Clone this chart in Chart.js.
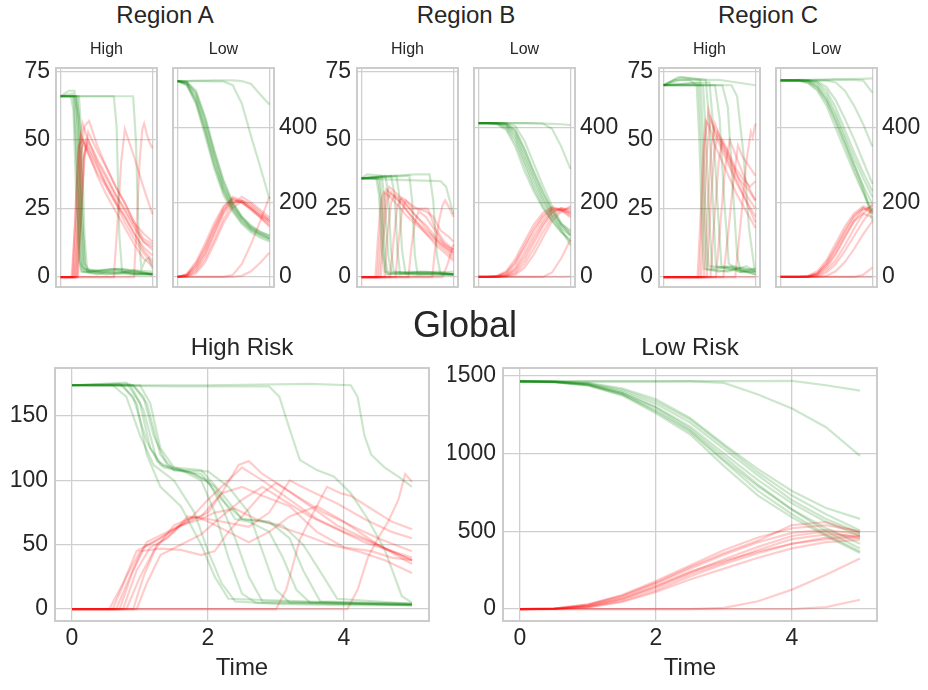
<!DOCTYPE html>
<html>
<head>
<meta charset="utf-8">
<script src="https://cdn.jsdelivr.net/npm/chart.js@4.4.0/dist/chart.umd.min.js"></script>
<style>
  html, body { margin: 0; padding: 0; background: #ffffff; }
  #fig { position: relative; width: 928px; height: 690px; overflow: hidden;
         font-family: "Liberation Sans", Arial, sans-serif; color: #262626; }
  #fig canvas { position: absolute; }
  .ttl { position: absolute; white-space: nowrap; line-height: 1; transform: translateX(-50%); }
</style>
</head>
<body>
<div id="fig"></div>
<script>
// ---------- tick labels and titles ----------
const timeTicksWide = [0, 2, 4];
const timeTicksNarrow = [0, 5];
const highTicks = [0, 25, 50, 75];
const lowTicks = [0, 200, 400];
const globalHighTicks = [0, 50, 100, 150];
const globalLowTicks = [0, 500, 1000, 1500];
const regionTitles = ['Region A', 'Region B', 'Region C'];
const groupTitles = ['High', 'Low'];
const globalTitle = 'Global';
const globalGroupTitles = ['High Risk', 'Low Risk'];
const timeLabel = 'Time';

// sample times used by the evenly sampled runs
const sampleTimes = [0, 0.5, 1, 1.5, 2, 2.5, 3, 3.5, 4, 4.5, 5];

// ---------- Region A ----------
const regionA_high_S = [
  [[0,66],[0.55,66],[0.7,61],[0.85,30],[1.0,6],[1.15,2],[2,1],[3,2.5],[4,1],[5,1.5]],
  [[0,66],[0.65,67],[0.8,62],[0.95,30],[1.1,5],[1.3,2],[2.5,1],[3.5,2],[5,1]],
  [[0,66],[0.45,68],[0.75,68],[0.9,60],[1.05,25],[1.2,4],[1.5,2],[3,1],[4,2.5],[5,1]],
  [[0,66],[0.8,66],[0.95,55],[1.1,20],[1.25,3],[2,2],[3,3],[5,2]],
  [[0,66],[0.85,66],[1.0,58],[1.15,25],[1.3,5],[1.6,2],[2.8,3],[5,1]],
  [[0,66],[0.9,66],[1.05,55],[1.2,20],[1.35,3],[2.2,2],[3.8,1],[5,1]],
  [[0,66],[1.0,66],[1.15,50],[1.3,15],[1.45,2],[2.6,2],[5,1]],
  [[0,66],[0.7,66],[0.85,45],[1.0,12],[1.15,2],[3.3,3],[5,1]],
  [[0,66],[2.9,66],[3.05,55],[3.2,15],[3.35,2],[4.2,1],[5,1]],
  [[0,66],[3.95,66],[4.1,50],[4.25,15],[4.4,3],[4.6,6],[4.8,7],[5,3]]
];
const regionA_high_I = [
  [[0,0],[0.6,0],[0.8,20],[0.95,45],[1.1,52],[1.5,45],[2,38],[2.5,33],[3,27],[3.5,22],[4,16],[4.5,10],[5,6]],
  [[0,0],[0.7,0],[0.9,25],[1.05,48],[1.2,56],[1.5,50],[2,42],[2.5,36],[3,30],[3.5,24],[4,18],[4.5,13],[5,11]],
  [[0,0],[0.75,0],[0.95,20],[1.1,45],[1.3,55],[1.55,57],[2,48],[2.5,40],[3,33],[3.5,27],[4,20],[4.5,14],[5,12]],
  [[0,0],[0.8,0],[1.0,25],[1.15,47],[1.35,50],[2,41],[2.5,33],[3,27],[3.5,20],[4,14],[4.5,9],[5,5]],
  [[0,0],[0.85,0],[1.05,20],[1.2,42],[1.4,48],[2,40],[2.5,34],[3,28],[3.5,22],[4,16],[4.5,11],[5,8]],
  [[0,0],[0.9,0],[1.1,22],[1.3,45],[1.5,53],[2,46],[2.5,40],[3,33],[3.5,27],[4,20],[4.5,16],[5,13]],
  [[0,0],[0.65,0],[0.85,30],[1.0,48],[1.2,50],[1.6,44],[2,37],[2.5,30],[3,24],[3.5,18],[4,12],[4.5,7],[5,4]],
  [[0,0],[0.95,0],[1.15,25],[1.3,44],[1.5,50],[2,43],[2.5,37],[3,30],[3.5,25],[4,19],[4.5,13],[5,10]],
  [[0,0],[2.9,0],[3.1,20],[3.3,42],[3.5,54],[3.7,50],[4,44],[4.5,33],[5,23]],
  [[0,0],[4.0,0],[4.15,20],[4.3,42],[4.45,54],[4.55,56],[4.7,52],[4.85,49],[5,47]]
];
const regionA_low_S = [
  [526,515,465,380,290,220,175,142,120,105,95],
  [526,522,490,415,325,245,192,158,132,117,106],
  [526,524,500,430,340,260,200,162,138,122,110],
  [526,518,470,390,300,228,180,146,125,110,100],
  [526,520,482,405,318,240,188,155,130,115,104],
  [526,523,495,425,335,255,198,160,135,120,112],
  [526,516,475,395,305,232,184,150,127,113,102],
  [526,526,526,526,525,525,515,465,378,296,210],
  [526,526,527,527,528,528,528,526,518,490,463]
];
const regionA_low_I = [
  [0,5,30,75,130,180,205,200,185,165,150],
  [0,3,20,60,115,170,200,205,190,170,155],
  [0,8,40,90,145,190,210,200,180,160,140],
  [0,2,15,50,100,155,195,215,200,180,160],
  [0,5,25,65,120,175,210,200,182,160,135],
  [0,1,10,40,90,145,185,205,195,175,150],
  [0,6,35,80,135,185,215,205,185,165,145],
  [0,0,0,0,0,0,5,35,88,150,215],
  [0,0,0,0,0,0,0,3,15,38,65]
];

// ---------- Region B ----------
const regionB_high_S = [
  [[0,36],[0.8,36],[0.95,30],[1.1,10],[1.25,2],[2,1],[3.2,2],[5,1]],
  [[0,36],[0.9,36],[1.05,28],[1.2,8],[1.35,1],[2.6,2],[5,1]],
  [[0,36],[1.0,36],[1.15,25],[1.3,6],[1.45,1],[3.5,2],[5,1]],
  [[0,36],[0.3,37.5],[1.1,37],[1.25,28],[1.45,8],[1.6,2],[4,1],[5,1]],
  [[0,36],[1.3,37],[1.45,30],[1.6,10],[1.75,2],[3,1],[5,2]],
  [[0,36],[1.6,37],[1.8,30],[1.95,10],[2.1,1],[4.2,2],[5,1]],
  [[0,36],[1.9,37],[2.05,30],[2.2,10],[2.4,1],[5,1]],
  [[0,36],[2.6,37],[2.75,28],[2.9,8],[3.05,1],[5,1]],
  [[0,36],[2.9,37.5],[3.7,37.5],[3.9,28],[4.1,8],[4.3,1],[5,1]],
  [[0,36],[2,35.5],[4.3,35],[4.6,33],[4.8,28],[5,23]]
];
const regionB_high_I = [
  [[0,0],[0.75,0],[0.9,15],[1.05,28],[1.2,31],[1.6,29],[2,26],[2.5,22],[3,19],[3.5,16],[4,13],[4.5,10],[5,7]],
  [[0,0],[0.85,0],[1.0,15],[1.15,27],[1.35,32],[1.8,29],[2.2,27],[2.6,23],[3,20],[3.5,17],[4,14],[4.5,11],[5,9]],
  [[0,0],[0.95,0],[1.1,14],[1.3,28],[1.5,33],[2,30],[2.5,26],[3,22],[3.5,19],[4,15],[4.5,12],[5,10]],
  [[0,0],[1.05,0],[1.2,15],[1.4,28],[1.6,31],[2,28],[2.5,24],[3,20],[3.5,16],[4,12],[4.5,9],[5,6]],
  [[0,0],[1.25,0],[1.4,15],[1.6,27],[1.8,30],[2.2,28],[2.6,25],[3,22],[3.5,18],[4,14],[4.5,11],[5,8]],
  [[0,0],[1.55,0],[1.75,14],[1.95,26],[2.2,29],[2.6,27],[3,25],[3.5,24],[3.9,22],[4.3,17],[4.7,15],[5,13]],
  [[0,0],[1.85,0],[2.0,12],[2.2,24],[2.4,28],[2.8,25],[3.2,25],[3.6,25],[4,18],[4.5,13],[5,10]],
  [[0,0],[2.55,0],[2.7,10],[2.9,20],[3.1,24],[3.5,22],[4,17],[4.5,12],[5,9]],
  [[0,0],[3.85,0],[4.0,10],[4.2,20],[4.4,26],[4.55,28],[4.8,25],[5,22]],
  [[0,0],[4.4,0],[4.7,5],[5,12]]
];
const regionB_low_S = [
  [413,413,410,395,350,285,230,185,150,120,100],
  [413,413,412,405,370,310,250,200,160,130,110],
  [413,413,413,410,385,330,270,215,170,138,115],
  [413,413,411,400,360,300,240,190,152,122,95],
  [413,413,413,412,395,345,285,230,180,140,112],
  [413,413,413,413,405,365,305,245,190,145,120],
  [413,413,412,408,378,320,262,208,165,128,85],
  [413,413,413,411,392,340,280,225,178,142,125],
  [413,413,413,413,413,413,413,412,398,350,290],
  [413,413,413,413,413,413,412,412,411,410,408]
];
const regionB_low_I = [
  [0,0,2,12,40,85,130,165,185,180,170],
  [0,0,1,6,25,65,110,150,180,185,175],
  [0,0,0,3,15,45,90,135,170,185,180],
  [0,0,3,15,48,95,140,172,188,180,165],
  [0,0,0,2,10,35,75,120,160,180,185],
  [0,0,0,1,6,25,60,105,150,175,190],
  [0,0,2,10,35,78,122,160,182,178,160],
  [0,0,0,4,20,55,100,142,175,182,172],
  [0,0,0,0,0,0,0,0,12,50,100],
  [0,0,0,0,0,0,0,0,0,0,1]
];

// ---------- Region C ----------
const regionC_high_S = [
  [[0,70],[0.6,72],[1.4,72],[1.8,70],[1.95,50],[2.1,15],[2.2,3],[3,2],[4,3],[5,1]],
  [[0,70],[1.9,71],[2.05,50],[2.2,18],[2.35,3],[3.5,2],[4.5,4],[5,2]],
  [[0,70],[0.8,73],[2.0,72],[2.15,52],[2.3,20],[2.45,4],[4,3],[5,1]],
  [[0,70],[2.15,70],[2.3,52],[2.5,20],[2.65,3],[3.8,4],[5,2]],
  [[0,70],[1.0,73],[2.3,72],[2.5,55],[2.7,25],[2.85,4],[4.2,2],[5,2]],
  [[0,70],[2.5,71],[2.7,55],[2.95,25],[3.15,4],[4.4,3],[5,3]],
  [[0,70],[2.8,70],[3.05,58],[3.3,28],[3.55,5],[4.1,2],[5,2]],
  [[0,70],[3.2,70],[3.5,62],[3.75,35],[4.0,8],[4.2,2],[5,3]],
  [[0,70],[3.7,70],[4.0,66],[4.35,45],[4.65,18],[4.95,3],[5,3]],
  [[0,70],[1.0,72],[3,72],[4,71],[5,70]]
];
const regionC_high_I = [
  [[0,0],[1.85,0],[2.0,20],[2.15,45],[2.3,57],[2.5,55],[2.8,48],[3.2,42],[3.6,36],[4,30],[4.5,24],[5,18]],
  [[0,0],[1.95,0],[2.1,25],[2.25,50],[2.45,61],[2.8,52],[3.2,46],[3.6,40],[4,34],[4.5,28],[5,22]],
  [[0,0],[2.05,0],[2.2,20],[2.35,45],[2.55,58],[2.9,52],[3.3,46],[3.8,38],[4.2,32],[4.6,26],[5,20]],
  [[0,0],[2.2,0],[2.4,25],[2.6,48],[2.8,56],[3.1,50],[3.5,44],[4.0,37],[4.5,30],[5,25]],
  [[0,0],[2.35,0],[2.55,25],[2.75,45],[2.95,53],[3.3,48],[3.7,42],[4.1,36],[4.6,32],[5,28]],
  [[0,0],[2.55,0],[2.75,20],[3.0,42],[3.2,50],[3.5,46],[3.9,40],[4.3,36],[4.7,33],[5,35]],
  [[0,0],[2.85,0],[3.1,20],[3.35,40],[3.6,50],[3.9,45],[4.3,38],[4.7,32],[5,28]],
  [[0,0],[3.25,0],[3.5,15],[3.8,35],[4.05,48],[4.3,44],[4.7,40],[5,37]],
  [[0,0],[3.9,0],[4.2,20],[4.5,42],[4.75,53],[4.85,51],[5,56]],
  [[0,0],[5,0]]
];
const regionC_low_S = [
  [528,528,528,525,510,475,420,360,300,245,195],
  [528,528,528,527,518,490,440,380,320,265,215],
  [528,528,527,520,500,460,400,340,280,225,170],
  [528,528,528,528,522,500,455,395,335,280,230],
  [528,528,528,526,512,480,430,370,305,240,150],
  [528,528,528,528,525,510,475,425,370,310,250],
  [528,528,528,528,528,527,522,500,460,410,350],
  [528,528,528,528,528,529,529,529,529,527,495],
  [528,528,529,529,530,530,531,531,532,532,533],
  [528,528,527,522,505,470,415,355,290,230,175]
];
const regionC_low_I = [
  [0,0,0,2,10,35,75,120,160,185,175],
  [0,0,0,1,6,25,60,105,150,180,190],
  [0,0,0,3,15,45,90,135,170,190,180],
  [0,0,0,0,4,18,45,85,130,170,195],
  [0,0,0,1,8,30,65,110,150,170,160],
  [0,0,0,0,2,12,35,70,110,150,185],
  [0,0,0,0,0,3,15,40,75,115,150],
  [0,0,0,0,0,0,0,0,0,6,25],
  [0,0,0,0,0,0,0,0,0,0,0],
  [0,0,0,1,10,38,80,125,165,185,170]
];

// ---------- Global ----------
const global_high_S = [
  [[0,174],[0.6,174],[0.8,165],[1.0,135],[1.2,112],[1.5,100],[1.8,75],[2.0,45],[2.2,20],[2.4,6],[3,4],[4,3],[5,3]],
  [[0,174],[0.7,175],[0.9,165],[1.1,130],[1.3,112],[1.6,108],[1.9,100],[2.1,75],[2.3,40],[2.5,12],[2.7,5],[4,4],[5,4]],
  [[0,174],[0.8,176],[1.0,160],[1.15,125],[1.35,110],[1.7,107],[2.0,100],[2.2,80],[2.4,55],[2.6,25],[2.8,6],[5,4]],
  [[0,174],[0.9,174],[1.05,165],[1.2,135],[1.4,112],[1.8,105],[2.1,95],[2.4,70],[2.6,68],[2.9,60],[3.1,40],[3.3,15],[3.5,5],[5,3]],
  [[0,174],[1.0,174],[1.15,160],[1.3,125],[1.5,110],[1.9,108],[2.2,90],[2.5,70],[2.9,68],[3.2,55],[3.4,30],[3.65,6],[5,4]],
  [[0,174],[0.75,174],[0.95,160],[1.1,120],[1.3,95],[1.6,80],[1.9,50],[2.1,25],[2.3,8],[5,3]],
  [[0,174],[0.85,175],[1.05,155],[1.25,115],[1.5,108],[1.9,105],[2.2,85],[2.5,70],[2.8,68],[3.1,65],[3.4,50],[3.7,25],[3.9,8],[5,4]],
  [[0,174],[1.5,173],[2.9,173],[3.05,165],[3.2,140],[3.35,116],[3.6,108],[3.85,103],[4.1,90],[4.35,70],[4.6,46],[4.85,10],[5,5]],
  [[0,174],[2,174],[3.5,175],[4.1,174],[4.2,165],[4.3,135],[4.4,120],[4.6,110],[4.8,103],[5,95]],
  [[0,174],[0.9,174],[1.1,160],[1.3,120],[1.5,108],[2.0,107],[2.3,95],[2.6,75],[2.8,45],[3.0,15],[3.2,5],[5,3]]
];
const global_high_I = [
  [[0,0],[0.55,0],[0.75,20],[0.95,45],[1.2,52],[1.5,62],[1.8,70],[2.0,75],[2.2,90],[2.45,112],[2.6,115],[2.8,105],[3.1,95],[3.5,80],[3.9,65],[4.3,55],[4.7,45],[5,38]],
  [[0,0],[0.6,0],[0.8,25],[1.0,45],[1.3,47],[1.6,46],[1.9,42],[2.1,45],[2.3,60],[2.5,72],[2.8,90],[3.0,98],[3.3,88],[3.7,75],[4.1,65],[4.5,55],[5,45]],
  [[0,0],[0.7,0],[0.9,30],[1.1,52],[1.4,60],[1.7,68],[2.0,85],[2.3,100],[2.5,110],[2.8,100],[3.2,85],[3.6,70],[4.0,60],[4.4,52],[5,38]],
  [[0,0],[0.75,0],[0.95,30],[1.15,48],[1.4,55],[1.7,72],[2.0,70],[2.3,67],[2.6,64],[2.9,75],[3.2,100],[3.5,92],[3.9,82],[4.3,70],[4.7,60],[5,55]],
  [[0,0],[0.8,0],[1.0,25],[1.2,45],[1.5,65],[1.8,72],[2.0,68],[2.3,60],[2.6,52],[2.9,60],[3.2,72],[3.6,80],[4.0,68],[4.5,50],[5,35]],
  [[0,0],[0.9,0],[1.05,25],[1.25,50],[1.5,60],[1.7,70],[1.9,72],[2.2,90],[2.5,95],[2.8,88],[3.2,80],[3.6,60],[4.0,48],[4.4,45],[4.7,40],[5,38]],
  [[0,0],[0.65,0],[0.85,25],[1.05,48],[1.3,55],[1.6,65],[1.9,70],[2.1,75],[2.4,78],[2.7,70],[3.0,65],[3.4,58],[3.8,50],[4.2,45],[4.6,38],[5,28]],
  [[0,0],[3.0,0],[3.15,15],[3.35,54],[3.55,75],[3.75,95],[3.95,90],[4.1,88],[4.4,78],[4.7,68],[5,62]],
  [[0,0],[4.05,0],[4.2,15],[4.35,40],[4.5,55],[4.65,68],[4.8,85],[4.9,105],[5,99]],
  [[0,0],[0.95,0],[1.1,20],[1.3,42],[1.6,50],[1.9,58],[2.2,72],[2.5,85],[2.8,95],[3.1,85],[3.5,72],[3.9,62],[4.3,52],[4.7,45],[5,40]]
];
const global_low_S = [
  [1465,1462,1445,1390,1300,1175,1000,830,680,560,470],
  [1465,1463,1450,1400,1320,1200,1030,860,700,580,490],
  [1465,1460,1440,1380,1280,1150,960,790,640,520,420],
  [1465,1464,1455,1420,1350,1230,1060,900,760,650,580],
  [1465,1462,1446,1392,1295,1160,980,800,640,500,390],
  [1465,1461,1442,1385,1270,1140,950,760,610,480,370],
  [1465,1463,1452,1410,1335,1220,1050,880,730,610,505],
  [1465,1460,1438,1375,1260,1125,920,730,590,470,360],
  [1465,1465,1465,1465,1465,1465,1455,1380,1290,1170,985],
  [1465,1465,1465,1465,1465,1466,1466,1467,1468,1440,1405]
];
const global_low_I = [
  [0,2,20,70,150,240,310,370,420,450,460],
  [0,1,15,60,135,225,300,380,450,480,470],
  [0,3,30,90,180,280,380,460,520,540,500],
  [0,1,10,45,110,190,260,330,390,430,445],
  [0,2,25,80,165,260,350,430,490,510,480],
  [0,1,12,50,120,210,290,360,420,460,470],
  [0,3,28,85,170,270,360,440,540,560,490],
  [0,1,18,65,145,235,320,400,470,500,455],
  [0,0,0,0,0,0,8,50,125,220,325],
  [0,0,0,0,0,0,0,0,0,12,60]
];

// ---------- drawing helpers ----------
const FONT = '"Liberation Sans", Arial, sans-serif';
const INK = '#262626';
const GRID = '#cfcfcf';
const GREEN = 'rgba(0,128,0,0.2)';
const RED = 'rgba(255,0,0,0.2)';
const TICK_SIZE = 23;
const fig = document.getElementById('fig');

const knots = run => run.map(([x, y]) => ({ x, y }));
const sampled = run => run.map((y, i) => ({ x: sampleTimes[i], y }));

const framePlugin = {
  id: 'axesFrame',
  afterDatasetsDraw(chart) {
    const { ctx, chartArea: a } = chart;
    ctx.save();
    ctx.strokeStyle = '#cccccc';
    ctx.lineWidth = 2;
    ctx.strokeRect(a.left, a.top, a.right - a.left, a.bottom - a.top);
    ctx.restore();
  }
};

function addTitle(text, cx, baseline, size) {
  const d = document.createElement('div');
  d.className = 'ttl';
  d.textContent = text;
  d.style.fontSize = size + 'px';
  d.style.left = cx + 'px';
  d.style.top = (baseline - 0.8465 * size) + 'px';
  fig.appendChild(d);
}

function panel(p) {
  const c = document.createElement('canvas');
  c.width = p.w; c.height = p.h;
  c.style.width = p.w + 'px'; c.style.height = p.h + 'px';
  c.style.left = p.x + 'px'; c.style.top = p.y + 'px';
  fig.appendChild(c);

  const toPts = p.sampled ? sampled : knots;
  const datasets = [];
  const n = Math.max(p.S.length, p.I.length);
  for (let i = 0; i < n; i++) {
    if (p.S[i]) datasets.push({ data: toPts(p.S[i]), borderColor: GREEN });
    if (p.I[i]) datasets.push({ data: toPts(p.I[i]), borderColor: RED });
  }
  datasets.forEach(d => {
    d.borderWidth = 2.2; d.pointRadius = 0; d.tension = 0; d.fill = false;
  });

  new Chart(c, {
    type: 'line',
    data: { datasets },
    plugins: [framePlugin],
    options: {
      responsive: false,
      animation: false,
      devicePixelRatio: 1,
      events: [],
      layout: { padding: p.pad },
      plugins: { legend: { display: false }, tooltip: { enabled: false } },
      scales: {
        x: {
          type: 'linear', min: -0.25, max: 5.25,
          afterBuildTicks: s => { s.ticks = p.xTicks.map(v => ({ value: v })); },
          afterFit: s => { s.height = p.xH; },
          grid: { color: GRID, lineWidth: 1.3, drawTicks: false },
          border: { display: false },
          ticks: { display: p.xLabels, padding: 4, color: INK, autoSkip: false,
                   maxRotation: 0, minRotation: 0,
                   font: { family: FONT, size: TICK_SIZE }, callback: v => String(v) },
          title: { display: !!p.xTitle, text: p.xTitle || '', color: INK, padding: 0,
                   font: { family: FONT, size: 24 } }
        },
        y: {
          type: 'linear', position: p.ySide, min: p.yMin, max: p.yMax,
          afterBuildTicks: s => { s.ticks = p.yTicks.map(v => ({ value: v })); },
          afterFit: s => { s.width = p.yW; },
          grid: { color: GRID, lineWidth: 1.3, drawTicks: false },
          border: { display: false },
          ticks: { padding: p.yPad, color: INK, autoSkip: false,
                   font: { family: FONT, size: TICK_SIZE }, callback: v => String(v) }
        }
      }
    }
  });
}

// ---------- top row: three regions, each with High and Low ----------
const regions = [
  { hS: regionA_high_S, hI: regionA_high_I, lS: regionA_low_S, lI: regionA_low_I, hl: 56, ll: 173 },
  { hS: regionB_high_S, hI: regionB_high_I, lS: regionB_low_S, lI: regionB_low_I, hl: 357, ll: 474 },
  { hS: regionC_high_S, hI: regionC_high_I, lS: regionC_low_S, lI: regionC_low_I, hl: 659, ll: 776 }
];
const FW = 101, FT = 68, FB = 287;

regions.forEach((r, k) => {
  panel({
    x: r.hl - 60, y: FT - 24, w: 60 + FW + 6, h: 24 + (FB - FT) + 24,
    pad: { left: 0, right: 6, top: 24, bottom: 4 },
    S: r.hS, I: r.hI, sampled: false,
    xTicks: timeTicksNarrow, xLabels: false, xH: 20,
    ySide: 'left', yW: 60, yPad: 6, yMin: -3.6, yMax: 76.3, yTicks: highTicks
  });
  panel({
    x: r.ll - 6, y: FT - 24, w: 6 + FW + 60, h: 24 + (FB - FT) + 24,
    pad: { left: 6, right: 0, top: 24, bottom: 4 },
    S: r.lS, I: r.lI, sampled: true,
    xTicks: timeTicksNarrow, xLabels: false, xH: 20,
    ySide: 'right', yW: 60, yPad: 5, yMin: -27, yMax: 561, yTicks: lowTicks
  });
  addTitle(regionTitles[k], (r.hl + r.ll + FW) / 2, 23, 24);
  addTitle(groupTitles[0], r.hl + FW / 2, 55, 16);
  addTitle(groupTitles[1], r.ll + FW / 2, 55, 16);
});

// ---------- bottom row: global totals ----------
addTitle(globalTitle, 465, 337, 36);

panel({
  x: 0, y: 344, w: 55 + 374 + 12, h: 683 - 344,
  pad: { left: 0, right: 12, top: 24, bottom: 0 },
  S: global_high_S, I: global_high_I, sampled: false,
  xTicks: timeTicksWide, xLabels: true, xH: 62, xTitle: timeLabel,
  ySide: 'left', yW: 55, yPad: 7, yMin: -9.3, yMax: 187.4, yTicks: globalHighTicks
});
addTitle(globalGroupTitles[0], 242, 355, 24);

panel({
  x: 448, y: 344, w: 55 + 374 + 12, h: 683 - 344,
  pad: { left: 0, right: 12, top: 24, bottom: 0 },
  S: global_low_S, I: global_low_I, sampled: true,
  xTicks: timeTicksWide, xLabels: true, xH: 62, xTitle: timeLabel,
  ySide: 'left', yW: 55, yPad: 7, yMin: -77, yMax: 1551, yTicks: globalLowTicks
});
addTitle(globalGroupTitles[1], 690, 355, 24);
</script>
</body>
</html>
